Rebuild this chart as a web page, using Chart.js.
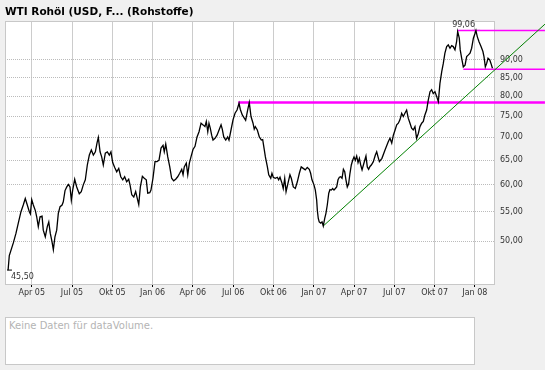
<!DOCTYPE html>
<html>
<head>
<meta charset="utf-8">
<script src="https://cdn.jsdelivr.net/npm/chart.js@4.4.0/dist/chart.umd.min.js"></script>
<style>
  body { margin: 0; background: #f0f0f0; width: 545px; height: 370px; overflow: hidden; font-family: "DejaVu Sans", Verdana, sans-serif; }
  #title { position: absolute; left: 5px; top: 5px; font-size: 10.5px; font-weight: bold; color: #000; white-space: nowrap; }
  #wrap { position: absolute; left: 0; top: 0; width: 545px; height: 310px; }
  #vol { position: absolute; left: 5px; top: 317px; width: 468px; height: 46px; background: #fff; border: 1px solid #c8c8c8; }
  #vol span { position: absolute; left: 3px; top: 2px; font-size: 10px; color: #b4b4b4; }
</style>
</head>
<body>
<div id="wrap"><canvas id="priceChart" width="545" height="310"></canvas></div>
<div id="title">WTI Rohöl (USD, F... (Rohstoffe)</div>
<div id="vol"><span>Keine Daten für dataVolume.</span></div>
<script>
// Monate seit Jan 2005 (3 = Apr 05, 36 = Jan 08)
const months = [
  1.24, 1.33, 1.63, 1.83, 2.00, 2.20, 2.37, 2.52, 2.67, 2.82, 2.90, 3.00, 3.12, 3.27, 3.37, 3.49, 3.62, 3.77, 3.86, 4.01,
  4.16, 4.27, 4.38, 4.51, 4.61, 4.73, 4.86, 4.98, 5.11, 5.26, 5.35, 5.48, 5.61, 5.73, 5.85, 5.95, 6.05, 6.20, 6.35, 6.54,
  6.69, 6.84, 6.99, 7.14, 7.29, 7.44, 7.59, 7.74, 7.86, 7.96, 8.09, 8.21, 8.33, 8.48, 8.63, 8.78, 8.90, 9.03, 9.18, 9.33,
  9.48, 9.63, 9.78, 9.92, 10.07, 10.22, 10.32, 10.45, 10.60, 10.74, 10.89, 10.97, 11.09, 11.24, 11.38, 11.53, 11.64, 11.79, 11.88, 12.03,
  12.18, 12.33, 12.48, 12.63, 12.78, 12.87, 12.98, 13.13, 13.28, 13.42, 13.57, 13.72, 13.87, 14.02, 14.17, 14.27, 14.36, 14.51, 14.62, 14.74,
  14.86, 15.01, 15.16, 15.31, 15.46, 15.61, 15.76, 15.90, 16.00, 16.11, 16.20, 16.30, 16.40, 16.50, 16.65, 16.80, 16.95, 17.10, 17.19, 17.30,
  17.45, 17.59, 17.69, 17.84, 17.99, 18.14, 18.29, 18.44, 18.53, 18.68, 18.83, 18.93, 19.08, 19.20, 19.33, 19.48, 19.57, 19.65, 19.80, 19.95,
  20.10, 20.20, 20.30, 20.40, 20.55, 20.65, 20.80, 20.89, 20.99, 21.14, 21.29, 21.39, 21.49, 21.64, 21.73, 21.84, 21.94, 22.08, 22.23, 22.33,
  22.48, 22.63, 22.78, 22.93, 23.07, 23.22, 23.37, 23.52, 23.67, 23.77, 23.87, 24.02, 24.12, 24.22, 24.27, 24.34, 24.41, 24.52, 24.62, 24.71,
  24.82, 24.91, 25.01, 25.12, 25.21, 25.31, 25.41, 25.51, 25.61, 25.71, 25.81, 25.91, 26.01, 26.11, 26.21, 26.31, 26.40, 26.50, 26.60, 26.70,
  26.80, 26.90, 27.00, 27.10, 27.20, 27.30, 27.40, 27.50, 27.60, 27.70, 27.80, 27.89, 27.99, 28.09, 28.19, 28.29, 28.44, 28.59, 28.69, 28.79,
  28.89, 29.08, 29.31, 29.55, 29.68, 29.81, 29.93, 30.06, 30.18, 30.30, 30.42, 30.55, 30.67, 30.79, 30.92, 31.04, 31.17, 31.29, 31.41, 31.54,
  31.66, 31.79, 31.91, 32.04, 32.16, 32.28, 32.41, 32.53, 32.66, 32.78, 32.90, 33.03, 33.16, 33.28, 33.40, 33.53, 33.65, 33.77, 33.90, 34.02,
  34.15, 34.27, 34.39, 34.52, 34.64, 34.72, 34.84, 34.91, 35.02, 35.14, 35.27, 35.39, 35.52, 35.64, 35.76, 35.89, 36.01, 36.08, 36.18, 36.31,
  36.46, 36.60, 36.68, 36.78, 36.88, 36.98, 37.11, 37.20, 37.31
];
const prices = [
  45.5, 47.7, 49.7, 51.3, 53.0, 55.0, 56.2, 57.4, 56.2, 55.0, 54.6, 57.2, 56.2, 55.2, 54.1, 52.4, 54.1, 54.2, 51.8, 50.7,
  52.4, 53.2, 51.3, 49.9, 48.6, 50.7, 51.8, 54.7, 55.9, 56.2, 56.8, 58.9, 59.6, 60.1, 59.6, 57.1, 59.0, 61.1, 59.6, 58.3,
  58.7, 60.0, 61.0, 64.0, 66.1, 67.2, 66.1, 66.8, 68.7, 70.0, 66.8, 65.7, 64.0, 66.5, 66.8, 66.1, 66.8, 64.5, 63.5, 62.6,
  63.3, 61.6, 61.0, 61.6, 60.6, 61.1, 60.0, 58.1, 57.7, 58.7, 57.1, 56.3, 59.6, 61.7, 61.3, 61.0, 58.4, 58.5, 59.0, 61.3,
  64.7, 64.7, 65.0, 67.6, 68.2, 66.8, 68.5, 65.7, 63.6, 61.3, 60.8, 61.1, 61.6, 62.3, 63.1, 62.0, 63.6, 64.4, 62.0, 64.4,
  65.7, 67.3, 68.0, 70.1, 71.3, 73.3, 72.9, 72.5, 73.7, 71.3, 73.3, 72.1, 70.5, 69.4, 69.8, 70.5, 71.7, 72.9, 71.9, 70.1,
  69.4, 70.1, 69.4, 71.7, 74.1, 75.7, 76.5, 78.2, 76.7, 75.3, 74.5, 74.0, 76.5, 78.4, 74.9, 73.3, 71.9, 72.5, 71.7, 70.1,
  69.4, 69.5, 67.6, 65.7, 63.6, 62.0, 61.3, 62.3, 61.5, 61.3, 61.5, 61.0, 61.5, 60.3, 59.3, 61.3, 58.7, 60.3, 62.0, 61.3,
  59.6, 59.3, 60.6, 62.3, 63.6, 63.3, 63.0, 63.5, 63.1, 62.3, 61.0, 60.0, 59.0, 57.1, 55.2, 53.8, 53.2, 53.0, 53.2, 52.5,
  53.8, 54.7, 56.2, 58.4, 59.1, 59.0, 59.3, 59.0, 59.3, 59.6, 61.0, 61.5, 61.6, 61.3, 63.1, 62.6, 61.0, 59.6, 60.2, 62.3,
  64.0, 65.0, 65.7, 65.0, 65.9, 64.5, 65.4, 64.0, 63.0, 64.0, 65.0, 65.9, 63.6, 63.1, 63.7, 64.0, 64.7, 66.1, 66.8, 65.7,
  64.7, 65.4, 67.2, 69.0, 69.8, 68.7, 70.5, 71.7, 72.9, 73.3, 74.1, 75.7, 74.9, 75.7, 76.5, 74.5, 73.3, 72.1, 71.7, 72.5,
  69.8, 70.9, 72.5, 73.3, 73.7, 75.3, 76.5, 79.0, 81.2, 81.7, 80.7, 81.2, 79.9, 78.6, 83.4, 86.6, 89.0, 92.0, 94.0, 94.5,
  93.5, 94.3, 94.0, 93.0, 95.5, 98.7, 96.6, 93.0, 90.5, 88.0, 88.5, 91.0, 91.5, 92.0, 93.5, 96.6, 98.1, 99.06, 97.1, 95.5,
  94.0, 92.5, 91.0, 88.0, 89.0, 90.5, 90.0, 89.0, 87.6
];

// Achsen
const tickMonths = [3, 6, 9, 12, 15, 18, 21, 24, 27, 30, 33, 36];
const tickLabels = ['Apr 05', 'Jul 05', 'Okt 05', 'Jan 06', 'Apr 06', 'Jul 06', 'Okt 06', 'Jan 07', 'Apr 07', 'Jul 07', 'Okt 07', 'Jan 08'];
const priceTicks = [50, 55, 60, 65, 70, 75, 80, 85, 90];

// Zeichnungen (Trendlinie, Widerstand, Unterstützung)
const trendMonths = [24.71, 41.22];
const trendPrices = [52.5, 101.1];
const resistMonths = [18.38, 41.22];
const resistPrice = 78.40;
const highMonths = [34.72, 41.22];
const highPrice = 99.06;
const supportMonths = [35.14, 41.22];
const supportPrice = 87.3;

// Extremwerte
const lowMarkMonths = [1.16, 1.53];
const lowPrice = 45.50;
const highMarkMonths = [35.79, 36.39];
const extremeLabels = ['45,50', '99,06'];

const fmt = v => v.toFixed(2).replace('.', ',');

const pricePoints = months.map((m, i) => ({ x: m, y: prices[i] }));
const hLine = (ms, p) => ms.map(m => ({ x: m, y: p }));

// Hintergrund und Rahmen des Diagrammbereichs
const framePlugin = {
    id: 'frame',
    beforeDraw(chart) {
        const { ctx, chartArea: a } = chart;
        ctx.save();
        ctx.fillStyle = '#ffffff';
        ctx.fillRect(a.left, a.top, a.right - a.left, a.bottom - a.top);
        ctx.restore();
    },
    beforeDatasetsDraw(chart) {
        const { ctx, chartArea: a } = chart;
        ctx.save();
        ctx.strokeStyle = '#c8c8c8';
        ctx.lineWidth = 1;
        ctx.strokeRect(a.left + 0.5, a.top + 0.5, a.right - a.left - 1, a.bottom - a.top);
        ctx.restore();
    }
};

// Beschriftung von Tief und Hoch
const extremePlugin = {
    id: 'extremes',
    afterDatasetsDraw(chart) {
        const { ctx, scales } = chart;
        ctx.save();
        ctx.font = '8px "DejaVu Sans"';
        ctx.fillStyle = '#333';
        ctx.textBaseline = 'middle';
        ctx.textAlign = 'left';
        ctx.fillText(extremeLabels[0], scales.x.getPixelForValue(lowMarkMonths[0]) + 4, scales.y.getPixelForValue(lowPrice) + 7);
        ctx.textAlign = 'right';
        ctx.fillText(extremeLabels[1], scales.x.getPixelForValue(highMarkMonths[0]) + 3, scales.y.getPixelForValue(highPrice) - 6);
        ctx.restore();
    }
};

const ctx = document.getElementById('priceChart').getContext('2d');
const priceChart = new Chart(ctx, {
    type: 'line',
    data: {
        datasets: [
            { data: pricePoints, borderColor: '#000', borderWidth: 1.3, pointRadius: 0, tension: 0 },
            { data: trendMonths.map((m, i) => ({ x: m, y: trendPrices[i] })), borderColor: '#008000', borderWidth: 1, pointRadius: 0, clip: false },
            { data: hLine(resistMonths, resistPrice), borderColor: '#ff00ff', borderWidth: 2.5, pointRadius: 0, clip: false },
            { data: hLine(highMonths, highPrice), borderColor: '#ff00ff', borderWidth: 1.5, pointRadius: 0, clip: false },
            { data: hLine(supportMonths, supportPrice), borderColor: '#ff00ff', borderWidth: 1.5, pointRadius: 0, clip: false },
            { data: hLine(lowMarkMonths, lowPrice), borderColor: '#000', borderWidth: 1, pointRadius: 0, clip: false },
            { data: hLine(highMarkMonths, highPrice), borderColor: '#000', borderWidth: 1, pointRadius: 0, clip: false }
        ]
    },
    options: {
        responsive: false,
        animation: false,
        layout: { padding: { left: 5, top: 21, right: 0, bottom: 0 } },
        plugins: { legend: { display: false }, tooltip: { enabled: false } },
        scales: {
            x: {
                type: 'linear',
                min: 1.01,
                max: 37.5,
                afterBuildTicks: scale => { scale.ticks = tickMonths.map(v => ({ value: v })); },
                afterFit: scale => { scale.height = 26; },
                grid: { color: '#cccccc', tickColor: '#000', tickLength: 3 },
                border: { display: false },
                ticks: {
                    autoSkip: false,
                    maxRotation: 0,
                    padding: 1,
                    color: '#333',
                    font: { family: 'DejaVu Sans', size: 8 },
                    callback: v => tickLabels[tickMonths.indexOf(v)]
                }
            },
            y: {
                type: 'logarithmic',
                position: 'right',
                min: 43.49,
                max: 102.14,
                afterBuildTicks: scale => { scale.ticks = priceTicks.map(v => ({ value: v })); },
                afterFit: scale => { scale.width = 50; },
                grid: { color: '#bbbbbb', drawTicks: false },
                border: { display: false, dash: [1, 1] },
                ticks: {
                    padding: 5,
                    color: '#333',
                    font: { family: 'DejaVu Sans', size: 8 },
                    callback: v => fmt(v)
                }
            }
        }
    },
    plugins: [framePlugin, extremePlugin]
});
</script>
</body>
</html>
